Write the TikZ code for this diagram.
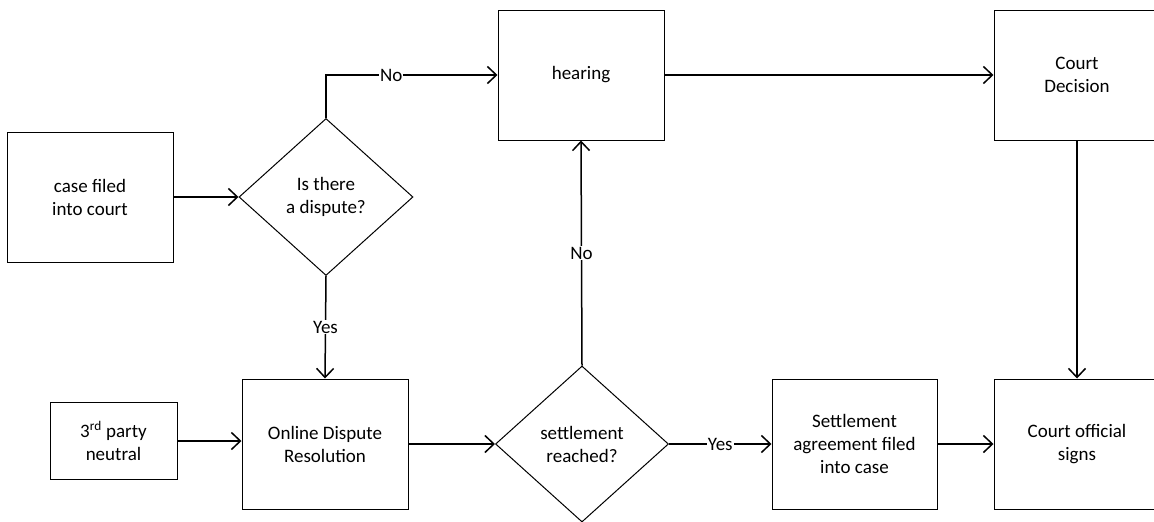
\documentclass[tikz,border=0pt]{standalone}
\usepackage{fontspec}
\setmainfont{Carlito}
\usetikzlibrary{shapes.geometric,arrows.meta}
\begin{document}
\begin{tikzpicture}[x=1pt,y=-1pt,
  every node/.style={font=\fontsize{19}{23}\selectfont, align=center},
  box/.style={draw, line width=1pt, rectangle, inner sep=0pt, minimum width=166pt, minimum height=130pt},
  decision/.style={draw, line width=1pt, diamond, inner sep=0pt, minimum width=174pt, minimum height=157pt},
  flow/.style={line width=1.5pt, -{Straight Barb[length=9pt,width=17pt,line width=1.5pt]}},
  lbl/.style={fill=white, inner sep=1pt}]
  \useasboundingbox (0,0) rectangle (1154,522);
  \clip (0,0) rectangle (1154,522);

  % process boxes and decisions
  \node[box] (case) at (90,197) {case filed\\into court};
  \node[decision] (dispute) at (326,197) {Is there\\a dispute?};
  \node[box] (hearing) at (581,75) {hearing};
  \node[box] (decide) at (1077,75) {Court\\Decision};
  \node[box, minimum width=127pt, minimum height=77pt] (neutral) at (113.5,441) {3\textsuperscript{rd} party\\neutral};
  \node[box] (odr) at (325,444) {Online Dispute\\Resolution};
  \node[decision, minimum width=173pt, minimum height=156pt] (settled) at (582,444) {settlement\\reached?};
  \node[box, minimum width=165pt] (filed) at (854.5,444) {Settlement\\agreement filed\\into case};
  \node[box] (signs) at (1077,444) {Court official\\signs};

  % connectors
  \draw[flow] (case.east) -- (dispute.west);
  \draw[flow] (dispute.north) -- (dispute.north |- hearing.west) -- node[lbl, pos=0.38] {No} (hearing.west);
  \draw[flow] (hearing.east) -- (decide.west);
  \draw[flow] (decide.south) -- (signs.north);
  \draw[flow] (dispute.south) -- node[lbl] {Yes} (odr.north);
  \draw[flow] (neutral.east) -- (neutral.east -| odr.west);
  \draw[flow] (odr.east) -- (settled.west);
  \draw[flow] (settled.north) -- node[lbl] {No} (hearing.south);
  \draw[flow] (settled.east) -- node[lbl] {Yes} (filed.west);
  \draw[flow] (filed.east) -- (signs.west);
\end{tikzpicture}
\end{document}
